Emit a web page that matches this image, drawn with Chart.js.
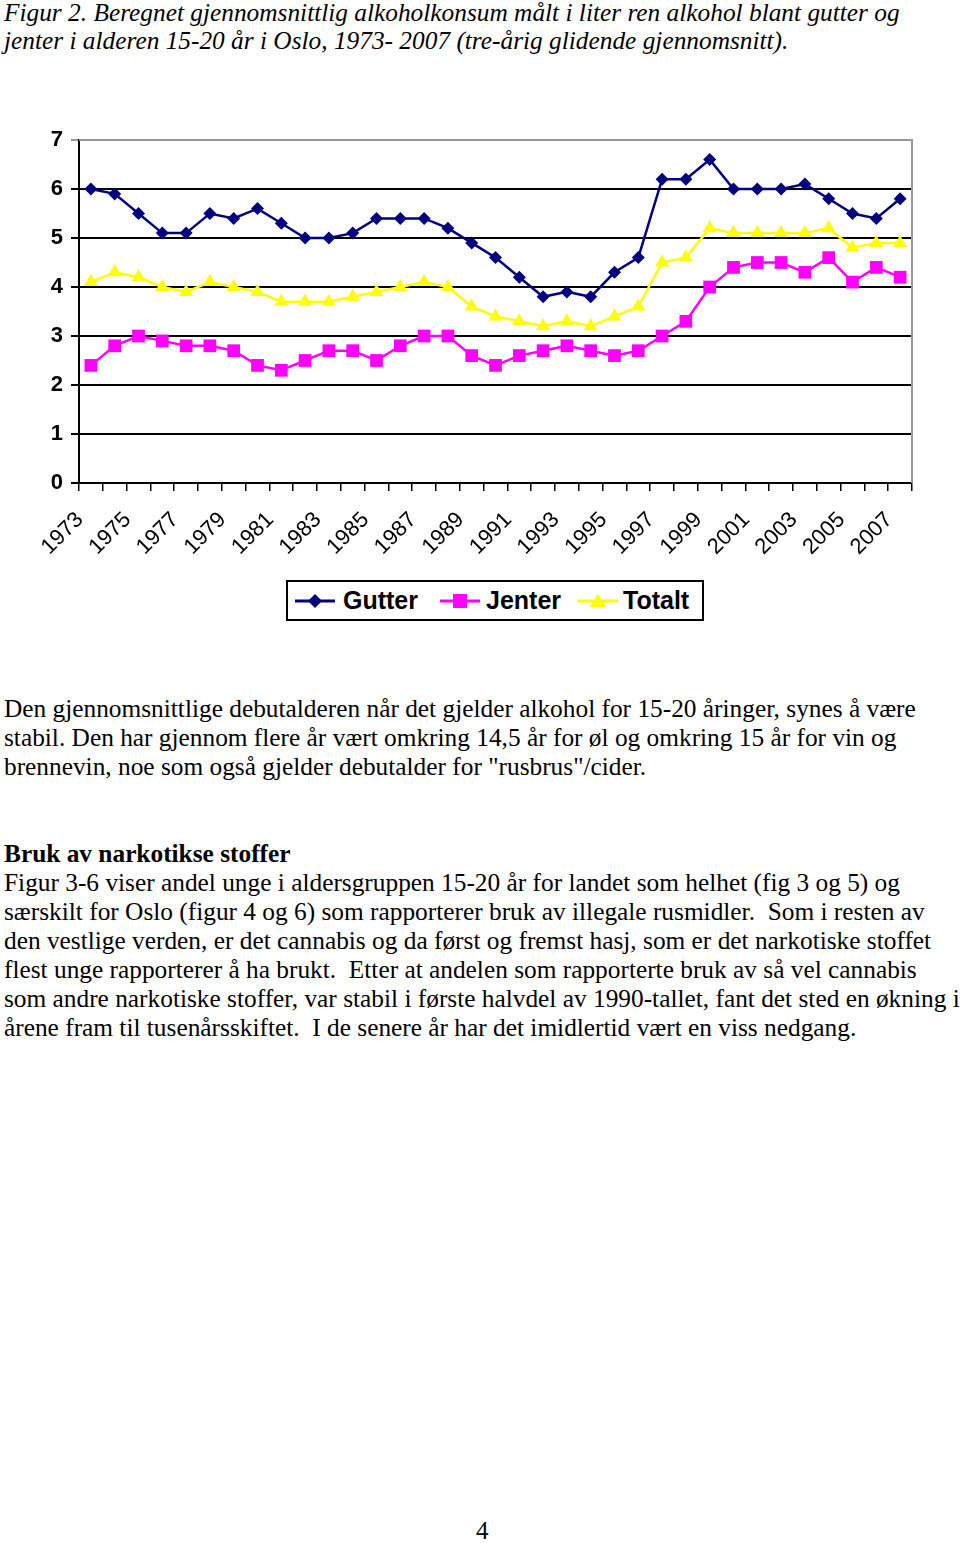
<!DOCTYPE html>
<html>
<head>
<meta charset="utf-8">
<script src="https://cdn.jsdelivr.net/npm/chart.js@4/dist/chart.umd.min.js"></script>
<style>
  body { margin: 0; background: #fff; width: 960px; height: 1543px; position: relative; overflow: hidden; }
  .txt { position: absolute; left: 4px; font-family: "Liberation Serif", "Times New Roman", serif; font-size: 25.35px; line-height: 29px; white-space: nowrap; color: #000; }
  .title { font-style: italic; line-height: 28px; top: -2px; }
  #chartWrap { position: absolute; left: 0; top: 110px; width: 960px; height: 470px; }
  #legend { position: absolute; left: 286px; top: 580px; width: 418px; height: 41px; box-sizing: border-box; border: 2px solid #000;
    font-family: "Liberation Sans", Arial, sans-serif; font-weight: bold; font-size: 25px; }
  .item { position: absolute; top: 0; height: 37px; line-height: 37px; }
  .item svg { position: absolute; top: 8px; left: 0; }
  .item span { position: absolute; top: 0; white-space: nowrap; }
  #page { position: absolute; left: 476px; top: 1517px; font-family: "Liberation Serif", serif; font-size: 25px; }
</style>
</head>
<body>
<div class="txt title">Figur 2. Beregnet gjennomsnittlig alkoholkonsum målt i liter ren alkohol blant gutter og<br>jenter i alderen 15-20 år i Oslo, 1973- 2007 (tre-årig glidende gjennomsnitt).</div>

<div id="chartWrap"><canvas id="alcoholChart" width="960" height="470"></canvas></div>

<div id="legend">
  <div class="item" style="left:5px"><svg width="44" height="22"><line x1="2" y1="11" x2="42" y2="11" stroke="#000080" stroke-width="3"/><polygon points="22,4 29,11 22,18 15,11" fill="#000080"/></svg><span style="left:50px">Gutter</span></div>
  <div class="item" style="left:150px"><svg width="44" height="22"><line x1="2" y1="11" x2="42" y2="11" stroke="#FF00FF" stroke-width="3"/><rect x="15" y="4" width="14" height="14" fill="#FF00FF"/></svg><span style="left:48px">Jenter</span></div>
  <div class="item" style="left:288px"><svg width="44" height="22"><line x1="2" y1="11" x2="42" y2="11" stroke="#FFFF00" stroke-width="3"/><polygon points="22,4 30,17 14,17" fill="#FFFF00"/></svg><span style="left:47px">Totalt</span></div>
</div>

<div class="txt" style="top:694px">Den gjennomsnittlige debutalderen når det gjelder alkohol for 15-20 åringer, synes å være<br>stabil. Den har gjennom flere år vært omkring 14,5 år for øl og omkring 15 år for vin og<br>brennevin, noe som også gjelder debutalder for "rusbrus"/cider.</div>

<div class="txt" style="top:839px"><b>Bruk av narkotikse stoffer</b><br>Figur 3-6 viser andel unge i aldersgruppen 15-20 år for landet som helhet (fig 3 og 5) og<br>særskilt for Oslo (figur 4 og 6) som rapporterer bruk av illegale rusmidler.&nbsp; Som i resten av<br>den vestlige verden, er det cannabis og da først og fremst hasj, som er det narkotiske stoffet<br>flest unge rapporterer å ha brukt.&nbsp; Etter at andelen som rapporterte bruk av så vel cannabis<br>som andre narkotiske stoffer, var stabil i første halvdel av 1990-tallet, fant det sted en økning i<br>årene fram til tusenårsskiftet.&nbsp; I de senere år har det imidlertid vært en viss nedgang.</div>

<div id="page">4</div>

<script>
const years = ['1973','1974','1975','1976','1977','1978','1979','1980','1981','1982','1983','1984',
  '1985','1986','1987','1988','1989','1990','1991','1992','1993','1994','1995','1996',
  '1997','1998','1999','2000','2001','2002','2003','2004','2005','2006','2007'];

const gutter = [6.0, 5.9, 5.5, 5.1, 5.1, 5.5, 5.4, 5.6, 5.3, 5.0, 5.0, 5.1,
  5.4, 5.4, 5.4, 5.2, 4.9, 4.6, 4.2, 3.8, 3.9, 3.8, 4.3, 4.6,
  6.2, 6.2, 6.6, 6.0, 6.0, 6.0, 6.1, 5.8, 5.5, 5.4, 5.8];

const jenter = [2.4, 2.8, 3.0, 2.9, 2.8, 2.8, 2.7, 2.4, 2.3, 2.5, 2.7, 2.7,
  2.5, 2.8, 3.0, 3.0, 2.6, 2.4, 2.6, 2.7, 2.8, 2.7, 2.6, 2.7,
  3.0, 3.3, 4.0, 4.4, 4.5, 4.5, 4.3, 4.6, 4.1, 4.4, 4.2];

const totalt = [4.1, 4.3, 4.2, 4.0, 3.9, 4.1, 4.0, 3.9, 3.7, 3.7, 3.7, 3.8,
  3.9, 4.0, 4.1, 4.0, 3.6, 3.4, 3.3, 3.2, 3.3, 3.2, 3.4, 3.6,
  4.5, 4.6, 5.2, 5.1, 5.1, 5.1, 5.1, 5.2, 4.8, 4.9, 4.9];

const yTicks = [0, 1, 2, 3, 4, 5, 6, 7];

// gray frame on top and right of the plot area, like the original
const plotFrame = {
  id: 'plotFrame',
  beforeDatasetsDraw(chart) {
    const { ctx, chartArea: a } = chart;
    ctx.save();
    ctx.strokeStyle = '#999';
    ctx.lineWidth = 2;
    ctx.beginPath();
    ctx.moveTo(a.left, a.top);
    ctx.lineTo(a.right, a.top);
    ctx.lineTo(a.right, a.bottom);
    ctx.stroke();
    ctx.restore();
  }
};

const alcoholChart = document.getElementById('alcoholChart');
const data = {
  labels: years,
  datasets: [{
    label: 'Gutter',
    data: gutter,
    borderColor: '#000080',
    backgroundColor: '#000080',
    borderWidth: 2.5,
    pointStyle: 'rectRot',
    pointRadius: 6.5,
    pointBorderWidth: 0
  }, {
    label: 'Jenter',
    data: jenter,
    borderColor: '#FF00FF',
    backgroundColor: '#FF00FF',
    borderWidth: 2.5,
    pointStyle: 'rect',
    pointRadius: 9,
    pointBorderWidth: 0
  }, {
    label: 'Totalt',
    data: totalt,
    borderColor: '#FFFF00',
    backgroundColor: '#FFFF00',
    borderWidth: 2.5,
    pointStyle: 'triangle',
    pointRadius: 8,
    pointBorderWidth: 0
  }]
};

const options = {
  responsive: false,
  animation: false,
  devicePixelRatio: 1,
  layout: { padding: { top: 30, right: 48, left: 0, bottom: 0 } },
  plugins: {
    legend: { display: false },
    tooltip: { enabled: false }
  },
  scales: {
    x: {
      offset: true,
      afterFit(scale) { scale.height = 97; },
      grid: { offset: true, drawOnChartArea: false, tickLength: 8, color: '#000', lineWidth: 1.5 },
      border: { color: '#000', width: 2 },
      ticks: {
        autoSkip: false,
        maxRotation: 45,
        minRotation: 45,
        padding: 16,
        labelOffset: -11,
        color: '#000',
        font: { family: '"Liberation Sans", Arial, sans-serif', size: 22 },
        callback(val, i) { return i % 2 === 0 ? years[i] : ''; }
      }
    },
    y: {
      min: 0,
      max: 7,
      afterFit(scale) { scale.width = 79; },
      afterBuildTicks(scale) { scale.ticks = yTicks.map(v => ({ value: v })); },
      grid: {
        tickLength: 8,
        lineWidth: 2,
        color: (c) => c.tick && c.tick.value === 7 ? '#999' : '#000'
      },
      border: { color: '#000', width: 2 },
      ticks: {
        padding: 8,
        color: '#000',
        font: { family: '"Liberation Sans", Arial, sans-serif', size: 22, weight: 'bold' }
      }
    }
  }
};

new Chart(alcoholChart, {
  type: 'line',
  data,
  options,
  plugins: [plotFrame]
});
</script>
</body>
</html>
